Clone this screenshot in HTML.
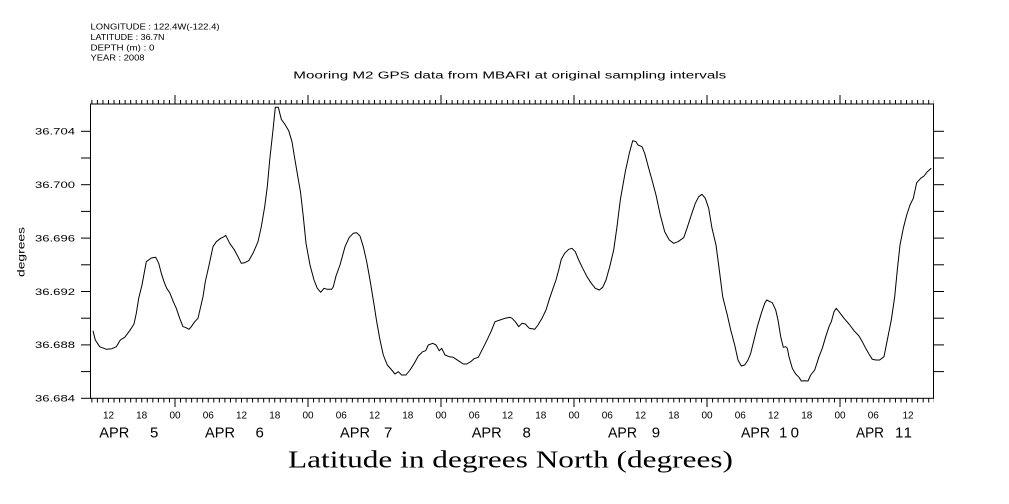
<!DOCTYPE html>
<html>
<head>
<meta charset="utf-8">
<style>
  html,body{margin:0;padding:0;background:#fff;}
  svg{display:block;}
  text{font-family:"Liberation Sans",sans-serif;fill:#000;}
  .serif{font-family:"Liberation Serif",serif;}
</style>
</head>
<body>
<svg width="1009" height="504" viewBox="0 0 1009 504" xmlns="http://www.w3.org/2000/svg">
  <rect x="0" y="0" width="1009" height="504" fill="#fff"/>

  <!-- header info -->
  <text x="90.5" y="29.5" font-size="8.5" textLength="129" lengthAdjust="spacingAndGlyphs">LONGITUDE : 122.4W(-122.4)</text>
  <text x="90.5" y="40" font-size="8.5" textLength="74" lengthAdjust="spacingAndGlyphs">LATITUDE : 36.7N</text>
  <text x="90.5" y="50.5" font-size="8.5" textLength="64" lengthAdjust="spacingAndGlyphs">DEPTH (m) : 0</text>
  <text x="90.5" y="60.5" font-size="8.5" textLength="54" lengthAdjust="spacingAndGlyphs">YEAR : 2008</text>

  <!-- title -->
  <text x="293.3" y="78.5" font-size="10" textLength="433" lengthAdjust="spacingAndGlyphs">Mooring M2 GPS data from MBARI at original sampling intervals</text>

  <!-- frame -->
  <rect x="90.5" y="104" width="843" height="294.3" fill="none" stroke="#000" stroke-width="1"/>

  <!-- minor ticks top / bottom -->
  <line x1="91.37" y1="102" x2="934" y2="102" stroke="#000" stroke-width="4" stroke-dasharray="1 4.542"/>
  <line x1="91.37" y1="400.5" x2="934" y2="400.5" stroke="#000" stroke-width="4" stroke-dasharray="1 4.542"/>

  <!-- major ticks top / bottom -->
  <g stroke="#000" stroke-width="1">
    <line x1="175" y1="95" x2="175" y2="104"/>
    <line x1="308" y1="95" x2="308" y2="104"/>
    <line x1="441" y1="95" x2="441" y2="104"/>
    <line x1="574" y1="95" x2="574" y2="104"/>
    <line x1="707" y1="95" x2="707" y2="104"/>
    <line x1="840" y1="95" x2="840" y2="104"/>
    <line x1="175" y1="398" x2="175" y2="407"/>
    <line x1="308" y1="398" x2="308" y2="407"/>
    <line x1="441" y1="398" x2="441" y2="407"/>
    <line x1="574" y1="398" x2="574" y2="407"/>
    <line x1="707" y1="398" x2="707" y2="407"/>
    <line x1="840" y1="398" x2="840" y2="407"/>
  </g>

  <!-- left / right y ticks -->
  <g stroke="#000" stroke-width="1">
    <line x1="81" y1="131.3" x2="91" y2="131.3"/>
    <line x1="81" y1="158" x2="91" y2="158"/>
    <line x1="81" y1="184.7" x2="91" y2="184.7"/>
    <line x1="81" y1="211.4" x2="91" y2="211.4"/>
    <line x1="81" y1="238.1" x2="91" y2="238.1"/>
    <line x1="81" y1="264.8" x2="91" y2="264.8"/>
    <line x1="81" y1="291.5" x2="91" y2="291.5"/>
    <line x1="81" y1="318.2" x2="91" y2="318.2"/>
    <line x1="81" y1="344.9" x2="91" y2="344.9"/>
    <line x1="81" y1="371.6" x2="91" y2="371.6"/>
    <line x1="81" y1="398.3" x2="91" y2="398.3"/>
    <line x1="933" y1="131.3" x2="944" y2="131.3"/>
    <line x1="933" y1="158" x2="944" y2="158"/>
    <line x1="933" y1="184.7" x2="944" y2="184.7"/>
    <line x1="933" y1="211.4" x2="944" y2="211.4"/>
    <line x1="933" y1="238.1" x2="944" y2="238.1"/>
    <line x1="933" y1="264.8" x2="944" y2="264.8"/>
    <line x1="933" y1="291.5" x2="944" y2="291.5"/>
    <line x1="933" y1="318.2" x2="944" y2="318.2"/>
    <line x1="933" y1="344.9" x2="944" y2="344.9"/>
    <line x1="933" y1="371.6" x2="944" y2="371.6"/>
  </g>

  <!-- y labels -->
  <g font-size="9.5">
    <text x="35" y="134.6" textLength="40" lengthAdjust="spacingAndGlyphs">36.704</text>
    <text x="35" y="188" textLength="40" lengthAdjust="spacingAndGlyphs">36.700</text>
    <text x="35" y="241.4" textLength="40" lengthAdjust="spacingAndGlyphs">36.696</text>
    <text x="35" y="294.8" textLength="40" lengthAdjust="spacingAndGlyphs">36.692</text>
    <text x="35" y="348.2" textLength="40" lengthAdjust="spacingAndGlyphs">36.688</text>
    <text x="35" y="401.6" textLength="40" lengthAdjust="spacingAndGlyphs">36.684</text>
  </g>

  <!-- y axis title -->
  <text transform="translate(24.5,277) rotate(-90)" font-size="10" textLength="50" lengthAdjust="spacingAndGlyphs">degrees</text>

  <!-- x tick labels -->
  <g font-size="10" text-anchor="middle">
    <text x="108.5" y="418.5">12</text>
    <text x="141.7" y="418.5">18</text>
    <text x="175" y="418.5">00</text>
    <text x="208.3" y="418.5">06</text>
    <text x="241.5" y="418.5">12</text>
    <text x="274.8" y="418.5">18</text>
    <text x="308" y="418.5">00</text>
    <text x="341.3" y="418.5">06</text>
    <text x="374.5" y="418.5">12</text>
    <text x="407.8" y="418.5">18</text>
    <text x="441" y="418.5">00</text>
    <text x="474.3" y="418.5">06</text>
    <text x="507.5" y="418.5">12</text>
    <text x="540.8" y="418.5">18</text>
    <text x="574" y="418.5">00</text>
    <text x="607.3" y="418.5">06</text>
    <text x="640.5" y="418.5">12</text>
    <text x="673.8" y="418.5">18</text>
    <text x="707" y="418.5">00</text>
    <text x="740.3" y="418.5">06</text>
    <text x="773.5" y="418.5">12</text>
    <text x="806.8" y="418.5">18</text>
    <text x="840" y="418.5">00</text>
    <text x="873.3" y="418.5">06</text>
    <text x="908" y="418.5">12</text>
  </g>

  <!-- date labels -->
  <g font-size="15">
    <text x="99.3" y="437.5" textLength="30" lengthAdjust="spacingAndGlyphs">APR</text>
    <text x="150" y="437.5">5</text>
    <text x="205" y="437.5" textLength="30" lengthAdjust="spacingAndGlyphs">APR</text>
    <text x="255.5" y="437.5">6</text>
    <text x="340" y="437.5" textLength="30" lengthAdjust="spacingAndGlyphs">APR</text>
    <text x="384" y="437.5">7</text>
    <text x="471.7" y="437.5" textLength="30" lengthAdjust="spacingAndGlyphs">APR</text>
    <text x="522.5" y="437.5">8</text>
    <text x="608" y="437.5" textLength="29" lengthAdjust="spacingAndGlyphs">APR</text>
    <text x="651.7" y="437.5">9</text>
    <text x="741" y="437.5" textLength="29" lengthAdjust="spacingAndGlyphs">APR</text>
    <text x="779" y="437.5" textLength="20" lengthAdjust="spacing">10</text>
    <text x="856" y="437.5" textLength="28" lengthAdjust="spacingAndGlyphs">APR</text>
    <text x="895" y="437.5" textLength="17" lengthAdjust="spacing">11</text>
  </g>

  <!-- x axis title -->
  <text class="serif" x="288" y="467.5" font-size="24" textLength="445" lengthAdjust="spacingAndGlyphs">Latitude in degrees North (degrees)</text>

  <!-- data line -->
  <polyline fill="none" stroke="#000" stroke-width="1" stroke-linejoin="round" points="
93,330.7 95.3,340 99.7,346.7 106.3,349.3 112,348.7 116.3,346.7 120.3,340 124.7,337.3 129.7,330.7 134,324 136.3,313.3 138.7,298.3 142,285 146.3,261.7 151.3,258 155.7,257.3 158.7,263.3 161.3,273.3 164,281.7 166.7,288.3 169.7,292.7 173.3,301.7 176.3,308.3 179.7,318.3 183,326.7 185.3,327.3 189,329.3 191.3,326.7 194.7,321.7 198,318.3 200.3,308.3 203,296.7 205.3,281.7 208.7,266.7 213,246.7 216.3,241.7 220.7,238.3 224,236.7 225.7,235.3 229.7,243.3 234,249.3 238,256.7 241.3,263.3 244.7,262.7 248.7,260.7 253,253.3 258,241.7 261.3,226.7 264.7,206.7 267.3,186.7 269.7,160 273,130 275.3,107.3 278.3,107.3 281.3,119.3 284.7,124 288.7,130.7 292,141.7 294.7,158.3 298.7,181.7 300.5,192 303.3,216.7
306,243.3 310,265 314,280 317.3,288.3 320.7,292.3 324,288.3 327.3,289.3 331.7,289.3 333.3,286.7 336,276 340,265 345,246.7 349.3,237.3 353.3,233.3 356.7,232.7 360,236 363.3,246.7 366.7,261.7 370,280 373.3,300 376.7,321.7 380,340 383.3,355 387.3,365 391.7,370 395,374 398.3,371.7 401.7,375 406,375 410,370 414.3,363.3 418.3,356 422.7,351.7 425.7,350.7 428.3,345 432.7,343.3 436,345 439.3,350.7 441.7,348.3 445,355 449.3,356.7 453.3,357.3 458.3,360.7 463.3,364 466.7,364 470.7,361.7 474,358.7 478.3,357.3 481.7,350.7 486.7,340.7 491,331.7 495,321.7 500,320 505,318.3 510,317.3
512,318.3 515.3,321.7 518.7,326.7 522,323.3 525.3,324 529.3,328.3 534.7,329.3 538,325 542,318.3 546,310 549.3,299.3 552.7,289.3 556,280 558.7,270 561.3,259.3 564.7,253.3 568.7,249.3 572,248.3 575.3,251.7 578.7,260 582.7,268.3 587,276.7 591.3,283.3 595.3,288.3 599.3,290 602.7,287.3 606,280 609.7,266.7 613.7,250 617,226.7 620.3,200 625.3,171.7 629.3,153.3 632.7,140.7 636,141.7 638,145 642,146.7 644.7,153.3 648.7,168.3 652,180 656,195 660.3,215 664.7,231.7 669.3,240 673.7,243.3 678,241.7 683.7,237.7 687,228.3 691.3,215 695.3,203.3 698.7,196.7 702,194.3 705.3,198.3 708.7,208.3 712,228.3 716,245 719.3,270 722.7,296.7
727.3,315 730.7,330 734.7,345 738,360 741.3,366 744.7,365 748,360 750.7,353.3 754,340 757.3,326.7 761.3,313.3 764.7,303.3 766.7,300 770,301.7 772.3,302.7 775.7,310 778,320 780.7,336.7 783.3,347.3 785.7,346.7 787.3,348.3 789,356.7 792.3,368.3 795.7,374 799,377.3 801.3,381 804,380.7 808,381 810.7,375 814.7,370 819,356.7 822.3,348.3 825.7,336.7 829,326.7 831.3,321.7 834,311.7 836.3,308.3 839,311.7 844,318.3 849,324 854,330.7 859,336 862.3,341.7 865.7,348.3 869,354 872.3,359.3 875.7,360 879.7,360 884,356.7 887.3,340 891.3,320 894.7,296.7 897.3,270 900,245 903.3,228.3 906.7,215 910,205 913.3,198.3 916.7,182.7 920.7,178.3 924,176 927.3,171.7 931.3,168.3"/>
</svg>
</body>
</html>
